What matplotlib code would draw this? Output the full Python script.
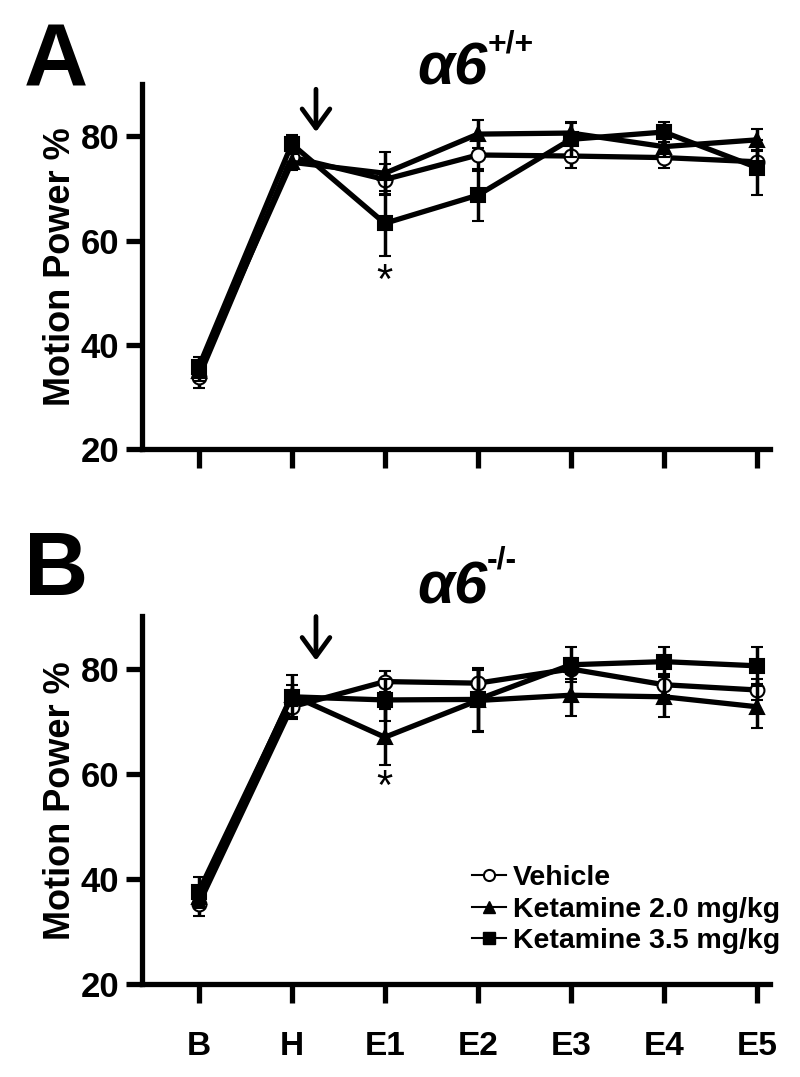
import matplotlib
matplotlib.use("Agg")
import matplotlib.pyplot as plt
from matplotlib.lines import Line2D

plt.rcParams['font.family'] = ['Liberation Sans', 'DejaVu Sans']

categories = ["B", "H", "E1", "E2", "E3", "E4", "E5"]
series_names = ["Vehicle", "Ketamine 2.0 mg/kg", "Ketamine 3.5 mg/kg"]

# Panel A (alpha6 +/+)
a_vehicle = [33.8, 76.0, 71.7, 76.4, 76.2, 75.9, 75.1]
a_vehicle_err = [2.0, 1.5, 3.0, 3.0, 2.2, 2.0, 2.0]
a_ket20 = [35.0, 75.0, 72.9, 80.4, 80.6, 78.0, 79.3]
a_ket20_err = [2.0, 1.5, 4.0, 2.7, 2.0, 2.0, 2.0]
a_ket35 = [35.8, 78.5, 63.3, 68.7, 79.4, 80.8, 74.0]
a_ket35_err = [1.9, 1.7, 6.2, 5.0, 3.4, 2.0, 5.3]

# Panel B (alpha6 -/-)
b_vehicle = [35.2, 72.8, 77.6, 77.3, 80.0, 77.0, 76.0]
b_vehicle_err = [2.2, 2.0, 2.0, 2.5, 2.0, 2.0, 2.0]
b_ket20 = [36.5, 75.0, 67.0, 74.0, 75.0, 74.7, 72.8]
b_ket20_err = [2.0, 2.0, 5.3, 6.0, 4.0, 3.8, 4.0]
b_ket35 = [37.6, 74.7, 74.1, 74.2, 80.8, 81.4, 80.6]
b_ket35_err = [2.8, 4.2, 4.0, 6.0, 3.3, 2.7, 3.5]

yticks = [20, 40, 60, 80]
arrow_x = 1.26
sig_index = 2

fig = plt.figure(figsize=(8, 10.77), dpi=100)
axA = fig.add_axes([0.1775, 0.5828, 0.785, 0.3392])
axB = fig.add_axes([0.1775, 0.0864, 0.785, 0.3412])

x = list(range(len(categories)))

def draw(ax, veh, veh_e, k20, k20_e, k35, k35_e, show_xlabels):
    common = dict(color='black', lw=3.8, elinewidth=2.5, capsize=4, capthick=2.5,
                  markeredgecolor='black', markeredgewidth=1.5)
    ax.errorbar(x, veh, yerr=veh_e, marker='o', markersize=10,
                markerfacecolor='white', zorder=3, **common)
    ax.errorbar(x, k20, yerr=k20_e, marker='^', markersize=10,
                markerfacecolor='black', zorder=4, **common)
    ax.errorbar(x, k35, yerr=k35_e, marker='s', markersize=10,
                markerfacecolor='black', zorder=5, **common)
    ax.set_xlim(-0.61, 6.14)
    ax.set_ylim(20, 90)
    ax.set_yticks(yticks)
    ax.set_xticks(x)
    if show_xlabels:
        ax.set_xticklabels(categories)
    else:
        ax.set_xticklabels([])
    for s in ['top', 'right']:
        ax.spines[s].set_visible(False)
    for s in ['left', 'bottom']:
        ax.spines[s].set_linewidth(3.8)
    ax.tick_params(axis='y', length=11.5, width=3.8, pad=5, labelsize=25)
    ax.tick_params(axis='x', length=14, width=3.8, pad=20, labelsize=24)
    for lab in ax.get_xticklabels() + ax.get_yticklabels():
        lab.set_fontweight('bold')
    ax.set_ylabel("Motion Power %", fontsize=26, fontweight='bold', labelpad=2)

draw(axA, a_vehicle, a_vehicle_err, a_ket20, a_ket20_err, a_ket35, a_ket35_err, False)
draw(axB, b_vehicle, b_vehicle_err, b_ket20, b_ket20_err, b_ket35, b_ket35_err, True)

# arrows
for ax, y0, y1 in [(axA, 89.0, 80.8), (axB, 90.0, 81.6)]:
    ax.annotate('', xy=(arrow_x, y1), xytext=(arrow_x, y0),
                arrowprops=dict(arrowstyle='->,head_length=0.55,head_width=0.4',
                                lw=3.4, color='black', mutation_scale=25,
                                shrinkA=0, shrinkB=0),
                annotation_clip=False)

# asterisks
axA.text(sig_index, 52.0, '*', ha='center', va='center', fontsize=30)
axB.text(sig_index, 57.3, '*', ha='center', va='center', fontsize=30)

# panel letters
fig.text(0.03, 0.92, 'A', fontsize=64, fontweight='bold', ha='left', va='baseline')
fig.text(0.03, 0.448, 'B', fontsize=64, fontweight='bold', ha='left', va='baseline')

# titles
fig.text(0.522, 0.922, 'α6', fontsize=43, fontweight='bold', fontstyle='italic',
         ha='left', va='baseline')
fig.text(0.609, 0.951, '+/+', fontsize=23, fontweight='bold', ha='left', va='baseline')
fig.text(0.522, 0.44, 'α6', fontsize=43, fontweight='bold', fontstyle='italic',
         ha='left', va='baseline')
fig.text(0.609, 0.472, '-/-', fontsize=23, fontweight='bold', ha='left', va='baseline')

handles = [
    Line2D([], [], color='black', lw=1.5, marker='o', markersize=8,
           markerfacecolor='white', markeredgecolor='black', markeredgewidth=1.5),
    Line2D([], [], color='black', lw=1.5, marker='^', markersize=9,
           markerfacecolor='black', markeredgecolor='black'),
    Line2D([], [], color='black', lw=1.5, marker='s', markersize=8,
           markerfacecolor='black', markeredgecolor='black'),
]
leg = fig.legend(handles, series_names, loc='center left',
                 bbox_to_anchor=(0.59, 0.1555), frameon=False, fontsize=20.5,
                 handlelength=1.2, handletextpad=0.25, labelspacing=0.2,
                 borderpad=0, borderaxespad=0)
for t in leg.get_texts():
    t.set_fontweight('bold')

fig.savefig('out.png', dpi=100)
